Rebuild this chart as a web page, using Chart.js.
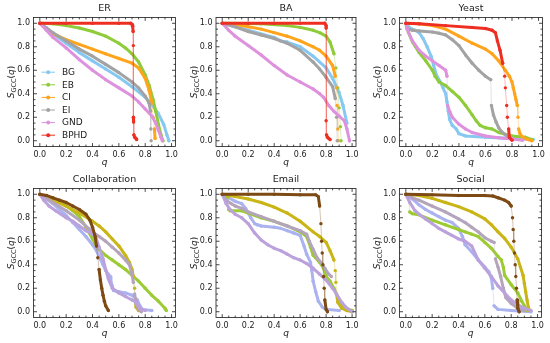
<!DOCTYPE html>
<html><head><meta charset="utf-8">
<script src="https://cdn.jsdelivr.net/npm/chart.js@4.4.0/dist/chart.umd.min.js"></script>
<style>
html,body{margin:0;padding:0;background:#fff;width:550px;height:343px;overflow:hidden;position:relative}
.p{position:absolute}
canvas{display:block}
</style></head><body>
<div class="p" id="w0"><canvas id="c0"></canvas></div>
<div class="p" id="w1"><canvas id="c1"></canvas></div>
<div class="p" id="w2"><canvas id="c2"></canvas></div>
<div class="p" id="w3"><canvas id="c3"></canvas></div>
<div class="p" id="w4"><canvas id="c4"></canvas></div>
<div class="p" id="w5"><canvas id="c5"></canvas></div>
<script>
// ---------------- DATA ----------------
const seriesNames = ['BG','EB','CI','EI','GND','BPHD'];
const panelTitles = ['ER','BA','Yeast','Collaboration','Email','Social'];
const tickValues = [0.0,0.2,0.4,0.6,0.8,1.0];

// ER
const ER_BG   = [[0,1],[0.05,0.96],[0.1,0.91],[0.2,0.83],[0.3,0.75],[0.4,0.68],[0.5,0.61],[0.6,0.54],[0.7,0.46],[0.8,0.37],[0.85,0.31],[0.9,0.23],[0.94,0.14],[0.965,0.05],[0.98,0]];
const ER_EB   = [[0,1],[0.1,0.995],[0.2,0.98],[0.3,0.96],[0.4,0.93],[0.5,0.89],[0.6,0.83],[0.65,0.79],[0.7,0.74],[0.75,0.67],[0.8,0.56],[0.83,0.47],[0.86,0.35],[0.88,0.25],[0.9,0.14],[0.92,0.05],[0.935,0]];
const ER_CI   = [[0,1],[0.05,0.95],[0.1,0.91],[0.2,0.86],[0.3,0.82],[0.4,0.78],[0.5,0.74],[0.6,0.7],[0.7,0.66],[0.75,0.62],[0.8,0.53],[0.83,0.43],[0.85,0.32],[0.86,0.2],[0.87,0.1],[0.875,0.02]];
const ER_EI   = [[0,1],[0.05,0.96],[0.1,0.92],[0.2,0.85],[0.3,0.78],[0.4,0.72],[0.5,0.65],[0.6,0.58],[0.7,0.5],[0.75,0.45],[0.8,0.38],[0.83,0.32],[0.84,0.25],[0.843,0.1],[0.845,0]];
const ER_GND  = [[0,1],[0.05,0.94],[0.1,0.88],[0.2,0.79],[0.3,0.69],[0.4,0.6],[0.5,0.52],[0.6,0.45],[0.7,0.38],[0.75,0.33],[0.8,0.27],[0.85,0.21],[0.88,0.15],[0.9,0.09],[0.92,0.03],[0.93,0]];
const ER_BPHD = [[0,1],[0.2,1],[0.4,1],[0.6,1],[0.69,1],[0.7,0.99],[0.705,0.975],[0.708,0.93],[0.71,0.81],[0.71,0.2],[0.712,0.16],[0.714,0.05],[0.72,0.03],[0.73,0.02],[0.735,0.01]];

// BA
const BA_BG   = [[0,1],[0.2,0.94],[0.4,0.88],[0.45,0.85],[0.5,0.84],[0.6,0.8],[0.7,0.72],[0.8,0.62],[0.85,0.53],[0.9,0.41],[0.93,0.3],[0.96,0.15],[0.98,0]];
const BA_EB   = [[0,1],[0.3,0.995],[0.5,0.98],[0.6,0.965],[0.7,0.94],[0.75,0.92],[0.8,0.89],[0.83,0.84],[0.86,0.74],[0.875,0.62],[0.89,0.45],[0.9,0.28],[0.91,0.12],[0.915,0]];
const BA_CI   = [[0,1],[0.1,0.99],[0.2,0.97],[0.3,0.95],[0.4,0.92],[0.5,0.89],[0.6,0.85],[0.7,0.8],[0.75,0.77],[0.8,0.72],[0.85,0.64],[0.87,0.55],[0.88,0.45],[0.885,0.3],[0.89,0.1],[0.895,0]];
const BA_EI   = [[0,1],[0.1,0.97],[0.2,0.93],[0.3,0.9],[0.4,0.87],[0.5,0.83],[0.6,0.77],[0.7,0.67],[0.75,0.61],[0.8,0.54],[0.85,0.46],[0.87,0.36],[0.88,0.2],[0.885,0]];
const BA_GND  = [[0,1],[0.05,0.94],[0.1,0.89],[0.2,0.81],[0.3,0.73],[0.4,0.64],[0.5,0.56],[0.6,0.5],[0.7,0.44],[0.75,0.4],[0.78,0.37],[0.82,0.3],[0.86,0.25],[0.9,0.21],[0.94,0.17],[0.96,0.1],[0.98,0]];
const BA_BPHD = [[0,1],[0.2,1],[0.4,1],[0.6,1],[0.79,1],[0.8,0.98],[0.8,0.96],[0.8,0.17],[0.803,0.05],[0.81,0.03],[0.82,0.02],[0.83,0.01]];

// Yeast
const YE_BG   = [[0,1],[0.03,0.96],[0.07,0.94],[0.1,0.92],[0.13,0.87],[0.16,0.8],[0.19,0.72],[0.21,0.64],[0.23,0.56],[0.26,0.5],[0.28,0.45],[0.3,0.4],[0.31,0.33],[0.32,0.25],[0.33,0.18],[0.35,0.13],[0.38,0.1],[0.4,0.06],[0.45,0.04],[0.6,0.03],[0.8,0.02],[0.96,0.01]];
const YE_EB   = [[0,1],[0.02,0.92],[0.05,0.84],[0.1,0.75],[0.15,0.68],[0.2,0.6],[0.22,0.55],[0.25,0.5],[0.3,0.47],[0.35,0.42],[0.4,0.37],[0.45,0.3],[0.5,0.22],[0.53,0.17],[0.56,0.13],[0.6,0.11],[0.65,0.1],[0.7,0.07],[0.8,0.04],[0.9,0.03],[0.95,0.01]];
const YE_CI   = [[0,1],[0.1,0.995],[0.2,0.98],[0.3,0.95],[0.4,0.89],[0.5,0.83],[0.6,0.78],[0.65,0.74],[0.7,0.68],[0.75,0.6],[0.78,0.55],[0.8,0.5],[0.81,0.45],[0.82,0.4],[0.83,0.35],[0.84,0.3],[0.845,0.2],[0.85,0.1],[0.86,0.06],[0.88,0.03],[0.92,0.01],[0.95,0]];
const YE_EI   = [[0,1],[0.01,0.95],[0.05,0.94],[0.1,0.935],[0.2,0.925],[0.25,0.915],[0.3,0.9],[0.35,0.86],[0.4,0.81],[0.45,0.73],[0.5,0.66],[0.55,0.6],[0.6,0.55],[0.64,0.52],[0.645,0.3],[0.66,0.22],[0.68,0.16],[0.7,0.11],[0.72,0.08],[0.75,0.05],[0.8,0.02]];
const YE_GND  = [[0,1],[0.02,0.92],[0.05,0.85],[0.1,0.77],[0.15,0.72],[0.2,0.68],[0.25,0.64],[0.3,0.6],[0.31,0.55],[0.315,0.3],[0.33,0.25],[0.35,0.2],[0.4,0.14],[0.45,0.1],[0.5,0.07],[0.6,0.04],[0.7,0.025],[0.8,0.015],[0.88,0.005]];
const YE_BPHD = [[0,1],[0.1,0.995],[0.3,0.98],[0.5,0.965],[0.6,0.955],[0.65,0.94],[0.675,0.92],[0.69,0.85],[0.71,0.77],[0.73,0.66],[0.745,0.55],[0.75,0.45],[0.76,0.3],[0.765,0.2],[0.775,0.1],[0.78,0.03],[0.8,0.005]];

// Collaboration
const CO_BG   = [[0,1],[0.05,0.96],[0.1,0.92],[0.15,0.87],[0.2,0.82],[0.25,0.76],[0.3,0.7],[0.35,0.64],[0.4,0.57],[0.43,0.52],[0.45,0.47],[0.48,0.4],[0.5,0.35],[0.52,0.32],[0.535,0.3],[0.54,0.25],[0.55,0.22],[0.56,0.18],[0.6,0.17],[0.65,0.16],[0.7,0.14],[0.74,0.1],[0.76,0.05],[0.78,0.02],[0.85,0.01]];
const CO_EB   = [[0,1],[0.05,0.98],[0.1,0.96],[0.15,0.93],[0.2,0.9],[0.25,0.86],[0.3,0.81],[0.35,0.72],[0.4,0.62],[0.42,0.58],[0.45,0.53],[0.5,0.48],[0.55,0.44],[0.6,0.4],[0.65,0.36],[0.7,0.31],[0.75,0.26],[0.8,0.2],[0.85,0.14],[0.9,0.09],[0.95,0.03],[0.96,0.01]];
const CO_CI   = [[0,1],[0.1,0.95],[0.2,0.9],[0.3,0.84],[0.4,0.77],[0.45,0.73],[0.5,0.68],[0.55,0.62],[0.6,0.56],[0.65,0.48],[0.68,0.42],[0.7,0.36],[0.71,0.3],[0.72,0.2],[0.725,0.1],[0.73,0.04],[0.75,0.01]];
const CO_EI   = [[0,1],[0.1,0.93],[0.2,0.86],[0.3,0.78],[0.4,0.68],[0.45,0.64],[0.5,0.6],[0.55,0.55],[0.6,0.5],[0.65,0.44],[0.68,0.4],[0.7,0.32],[0.71,0.25],[0.72,0.15],[0.73,0.07],[0.75,0.02],[0.77,0]];
const CO_GND  = [[0,1],[0.03,0.95],[0.07,0.9],[0.12,0.86],[0.2,0.8],[0.25,0.77],[0.3,0.73],[0.35,0.69],[0.4,0.66],[0.43,0.62],[0.45,0.55],[0.48,0.45],[0.5,0.36],[0.52,0.28],[0.55,0.2],[0.6,0.16],[0.65,0.13],[0.7,0.1],[0.73,0.08],[0.75,0.05],[0.77,0.02],[0.8,0.01]];
const CO_BPHD = [[0,1],[0.05,0.99],[0.1,0.97],[0.15,0.95],[0.2,0.93],[0.25,0.9],[0.3,0.87],[0.35,0.83],[0.38,0.78],[0.4,0.72],[0.42,0.64],[0.43,0.56],[0.44,0.46],[0.45,0.36],[0.46,0.27],[0.47,0.2],[0.48,0.14],[0.49,0.09],[0.5,0.05],[0.52,0.01]];

// Email
const EM_BG   = [[0,1],[0.05,0.97],[0.1,0.94],[0.15,0.92],[0.18,0.88],[0.22,0.8],[0.25,0.75],[0.27,0.74],[0.3,0.73],[0.4,0.72],[0.45,0.71],[0.5,0.69],[0.55,0.67],[0.6,0.65],[0.63,0.56],[0.65,0.49],[0.68,0.42],[0.69,0.35],[0.7,0.26],[0.72,0.17],[0.74,0.09],[0.77,0.04],[0.8,0.02],[0.9,0.01]];
const EM_EB   = [[0,1],[0.04,0.97],[0.05,0.87],[0.06,0.86],[0.15,0.86],[0.2,0.84],[0.3,0.8],[0.4,0.77],[0.5,0.73],[0.6,0.68],[0.65,0.64],[0.68,0.55],[0.7,0.48],[0.75,0.42],[0.78,0.37],[0.8,0.3],[0.83,0.26],[0.86,0.2],[0.88,0.15],[0.9,0.08],[0.93,0.04],[0.97,0.02],[1.0,0.01]];
const EM_CI   = [[0,1],[0.1,0.98],[0.2,0.96],[0.3,0.93],[0.4,0.89],[0.5,0.84],[0.6,0.77],[0.7,0.68],[0.75,0.64],[0.8,0.59],[0.83,0.52],[0.86,0.44],[0.87,0.35],[0.875,0.25],[0.88,0.15],[0.89,0.08],[0.92,0.03],[0.96,0.01],[1.0,0]];
const EM_EI   = [[0,1],[0.03,0.95],[0.07,0.92],[0.1,0.9],[0.15,0.88],[0.2,0.85],[0.3,0.81],[0.4,0.77],[0.5,0.73],[0.55,0.71],[0.6,0.69],[0.65,0.66],[0.67,0.6],[0.7,0.53],[0.73,0.46],[0.76,0.42],[0.79,0.37],[0.82,0.32],[0.84,0.3]];
const EM_GND  = [[0,1],[0.03,0.92],[0.06,0.87],[0.1,0.83],[0.15,0.8],[0.2,0.75],[0.25,0.67],[0.3,0.61],[0.35,0.57],[0.4,0.54],[0.45,0.52],[0.5,0.49],[0.55,0.46],[0.6,0.44],[0.65,0.41],[0.7,0.37],[0.75,0.32],[0.8,0.27],[0.85,0.2],[0.88,0.15],[0.92,0.08],[0.95,0.04],[1.0,0]];
const EM_BPHD = [[0,1],[0.2,1],[0.4,1],[0.6,0.995],[0.72,0.995],[0.74,0.98],[0.75,0.9],[0.76,0.75],[0.765,0.6],[0.77,0.5],[0.775,0.4],[0.78,0.3],[0.785,0.2],[0.79,0.1],[0.8,0.02],[0.81,0]];

// Social
const SO_BG   = [[0,1],[0.05,0.96],[0.1,0.91],[0.15,0.87],[0.2,0.84],[0.25,0.81],[0.3,0.78],[0.35,0.76],[0.4,0.71],[0.43,0.64],[0.45,0.57],[0.5,0.51],[0.55,0.44],[0.6,0.38],[0.63,0.34],[0.65,0.28],[0.66,0.2],[0.67,0.05],[0.7,0.02],[0.8,0.01],[0.95,0]];
const SO_EB   = [[0,1],[0.02,0.98],[0.03,0.85],[0.05,0.835],[0.1,0.825],[0.2,0.78],[0.3,0.74],[0.4,0.7],[0.45,0.68],[0.5,0.66],[0.55,0.64],[0.6,0.59],[0.65,0.54],[0.7,0.47],[0.725,0.44],[0.74,0.38],[0.75,0.31],[0.8,0.23],[0.85,0.16],[0.88,0.09],[0.9,0.05],[0.92,0.01]];
const SO_CI   = [[0,1],[0.1,0.99],[0.2,0.965],[0.3,0.93],[0.4,0.895],[0.5,0.85],[0.6,0.79],[0.65,0.74],[0.7,0.68],[0.75,0.625],[0.8,0.55],[0.85,0.45],[0.87,0.38],[0.89,0.31],[0.9,0.24],[0.91,0.17],[0.92,0.1],[0.93,0.04],[0.94,0.01]];
const SO_EI   = [[0,1],[0.05,0.97],[0.1,0.95],[0.2,0.9],[0.3,0.85],[0.4,0.79],[0.45,0.76],[0.5,0.72],[0.55,0.68],[0.6,0.63],[0.65,0.6],[0.67,0.59],[0.68,0.45],[0.7,0.38],[0.72,0.3],[0.74,0.2],[0.76,0.12],[0.8,0.07],[0.85,0.03],[0.9,0.01]];
const SO_GND  = [[0,1],[0.03,0.93],[0.07,0.86],[0.1,0.83],[0.15,0.79],[0.2,0.75],[0.25,0.71],[0.3,0.68],[0.35,0.65],[0.4,0.62],[0.45,0.6],[0.5,0.56],[0.55,0.44],[0.6,0.37],[0.65,0.3],[0.7,0.22],[0.75,0.16],[0.8,0.1],[0.85,0.06],[0.9,0.03],[0.95,0.01]];
const SO_BPHD = [[0,1],[0.2,0.995],[0.4,0.99],[0.6,0.99],[0.66,0.985],[0.7,0.97],[0.75,0.95],[0.78,0.93],[0.8,0.9],[0.81,0.8],[0.815,0.7],[0.82,0.6],[0.825,0.5],[0.83,0.4],[0.835,0.3],[0.84,0.2],[0.845,0.1],[0.85,0.03],[0.86,0]];

// ---------------- STYLE / LAYOUT ----------------
const panels = [
  {title:panelTitles[0], series:[ER_BG,ER_EB,ER_CI,ER_EI,ER_GND,ER_BPHD], row:0, cx:0,   fl:33.5, fw:142, legend:true},
  {title:panelTitles[1], series:[BA_BG,BA_EB,BA_CI,BA_EI,BA_GND,BA_BPHD], row:0, cx:182, fl:216,  fw:140},
  {title:panelTitles[2], series:[YE_BG,YE_EB,YE_CI,YE_EI,YE_GND,YE_BPHD], row:0, cx:366, fl:399.5,fw:143},
  {title:panelTitles[3], series:[CO_BG,CO_EB,CO_CI,CO_EI,CO_GND,CO_BPHD], row:1, cx:0,   fl:33.5, fw:142},
  {title:panelTitles[4], series:[EM_BG,EM_EB,EM_CI,EM_EI,EM_GND,EM_BPHD], row:1, cx:182, fl:216,  fw:140},
  {title:panelTitles[5], series:[SO_BG,SO_EB,SO_CI,SO_EI,SO_GND,SO_BPHD], row:1, cx:366, fl:399.5,fw:142}
];
const rowColors = [
  ['#86c8f2','#8fcc3a','#ffa41b','#a3a3a3','#de92de','#ee2e22'],
  ['#aab2f0','#9ccb34','#c9b515','#b4a4bc','#bba2dc','#7d4a14']
];
const rowTop = [0,171];
const FT = 17.4, FH = 129.2, XH = 30.4, RP = 8;
const FONT = '"DejaVu Sans", "Liberation Sans", sans-serif';
function rgba(hex,a){const n=parseInt(hex.slice(1),16);return 'rgba('+(n>>16)+','+((n>>8)&255)+','+(n&255)+','+a+')';}

const deco = {
  id:'deco',
  afterDraw(chart, args, o){
    const ctx = chart.ctx, a = chart.chartArea, xs = chart.scales.x, ys = chart.scales.y;
    ctx.save();
    ctx.strokeStyle = '#1a1a1a'; ctx.lineWidth = 0.8;
    const ln=(x1,y1,x2,y2)=>{ctx.beginPath();ctx.moveTo(x1,y1);ctx.lineTo(x2,y2);ctx.stroke();};
    for (let i=0;i<=20;i++){
      const v=i*0.05, L=(i%4===0)?3.5:2;
      const px=xs.getPixelForValue(v), py=ys.getPixelForValue(v);
      ln(px,a.bottom,px,a.bottom-L); ln(px,a.top,px,a.top+L);
      ln(a.left,py,a.left+L,py); ln(a.right,py,a.right-L,py);
    }
    ctx.strokeRect(a.left,a.top,a.right-a.left,a.bottom-a.top);
    ctx.fillStyle='#1a1a1a';
    ctx.font = '9.5px '+FONT; ctx.textAlign='center'; ctx.textBaseline='middle';
    ctx.fillText(o.title,(a.left+a.right)/2,a.top-8.5);
    ctx.font = 'italic 9px '+FONT;
    ctx.fillText('q',(a.left+a.right)/2,a.bottom+16.5);
    ctx.save();
    ctx.translate(a.left-22.5,(a.top+a.bottom)/2);
    ctx.rotate(-Math.PI/2);
    ctx.textAlign='left'; ctx.textBaseline='alphabetic';
    const fS='italic 9px '+FONT, fSub='6.5px '+FONT, fN='9px '+FONT;
    ctx.font=fS; const w1=ctx.measureText('S').width;
    ctx.font=fSub; const w2=ctx.measureText('GCC').width;
    ctx.font=fN; const w3=ctx.measureText('(').width, w5=ctx.measureText(')').width;
    ctx.font=fS; const w4=ctx.measureText('q').width;
    let x0=-(w1+w2+w3+w4+w5)/2, by=3;
    ctx.font=fS; ctx.fillText('S',x0,by); x0+=w1;
    ctx.font=fSub; ctx.fillText('GCC',x0,by+2); x0+=w2;
    ctx.font=fN; ctx.fillText('(',x0,by); x0+=w3;
    ctx.font=fS; ctx.fillText('q',x0,by); x0+=w4;
    ctx.font=fN; ctx.fillText(')',x0,by);
    ctx.restore();
    if (o.legend){
      chart.data.datasets.forEach((d,i)=>{
        const yy=a.top+54.8+i*12.6;
        ctx.strokeStyle=d.borderColor; ctx.lineWidth=1;
        ln(a.left+8,yy,a.left+21.5,yy);
        ctx.fillStyle=d.borderColor;
        ctx.beginPath(); ctx.arc(a.left+14.7,yy,2,0,Math.PI*2); ctx.fill();
        ctx.fillStyle='#1a1a1a'; ctx.font='9px '+FONT; ctx.textAlign='left'; ctx.textBaseline='middle';
        ctx.fillText(d.label,a.left+28.5,yy+0.5);
      });
    }
    ctx.restore();
  }
};

const isJump = c => {
  const dx=Math.abs(c.p1.parsed.x-c.p0.parsed.x), dy=Math.abs(c.p1.parsed.y-c.p0.parsed.y);
  return dy>0.09 && dy>6*dx;
};

panels.forEach((p,k)=>{
  const yw = p.fl - p.cx;
  const W = Math.ceil(yw + p.fw + RP), H = Math.round(FT+FH+XH);
  const wrap = document.getElementById('w'+k);
  wrap.style.left = p.cx+'px'; wrap.style.top = rowTop[p.row]+'px';
  const cv = document.getElementById('c'+k);
  cv.width = W; cv.height = H; cv.style.width=W+'px'; cv.style.height=H+'px';
  const rp = W - yw - p.fw;
  const cols = rowColors[p.row];
  const datasets = p.series.map((s,i)=>({
    label: seriesNames[i],
    data: s.map(([q,v])=>({x:q,y:v})),
    borderColor: cols[i], backgroundColor: cols[i],
    borderWidth: 3, pointRadius: 1.7, pointBorderWidth: 0, pointHoverRadius: 0,
    tension: 0, borderJoinStyle:'round', borderCapStyle:'round',
    order: 5 - i,
    segment: {
      borderWidth: c => isJump(c) ? 0.6 : undefined,
      borderColor: c => isJump(c) ? rgba(cols[i],0.55) : undefined
    }
  }));
  new Chart(cv, {
    type:'line',
    data:{datasets},
    options:{
      responsive:false, animation:false, devicePixelRatio:1,
      layout:{padding:{top:FT,left:0,right:rp,bottom:0}},
      plugins:{legend:{display:false}, tooltip:{enabled:false}, deco:{title:p.title, legend:!!p.legend}},
      scales:{
        x:{type:'linear', min:-0.048, max:1.03,
           afterBuildTicks: s => { s.ticks = tickValues.map(v=>({value:v})); },
           afterFit: s => { s.height = XH; },
           grid:{display:false, drawTicks:false}, border:{display:false},
           ticks:{padding:3.5, color:'#1a1a1a', font:{family:FONT, size:8}, maxRotation:0, autoSkip:false,
                  callback: v => Number(v).toFixed(1)}},
        y:{type:'linear', min:-0.05, max:1.05,
           afterBuildTicks: s => { s.ticks = tickValues.map(v=>({value:v})); },
           afterFit: s => { s.width = yw; },
           grid:{display:false, drawTicks:false}, border:{display:false},
           ticks:{padding:3.5, color:'#1a1a1a', font:{family:FONT, size:8}, autoSkip:false,
                  callback: v => Number(v).toFixed(1)}}
      }
    },
    plugins:[deco]
  });
});
</script>
</body></html>
